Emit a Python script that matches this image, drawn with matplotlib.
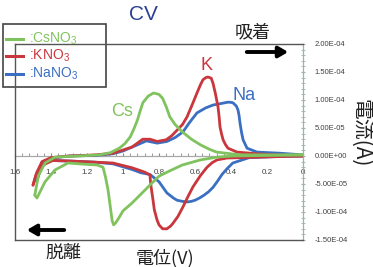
import matplotlib
matplotlib.use("Agg")
import matplotlib.pyplot as plt
from matplotlib.patches import Rectangle
from matplotlib.lines import Line2D
from matplotlib.ticker import MultipleLocator, FixedLocator, FixedFormatter

# ---------------- data (potential V, current in 1e-5 A) ----------------
cs_up_x = [0.0, 0.2, 0.35, 0.48, 0.52, 0.57, 0.62, 0.67, 0.71, 0.74, 0.76, 0.78, 0.80, 0.83,
           0.86, 0.89, 0.905, 0.92, 0.94, 0.96, 0.99, 1.02, 1.07, 1.13, 1.25, 1.378, 1.433,
           1.47, 1.49]
cs_up_y = [0.2, 0.2, 0.2, 0.7, 1.2, 2.0, 3.0, 4.3, 5.6, 7.0, 8.8, 10.3, 11.0, 11.25,
           10.7, 9.5, 8.0, 6.4, 4.8, 3.4, 2.2, 1.4, 0.6, 0.2, 0.0, -0.2, -1.25,
           -3.5, -7.0]
cs_dn_x = [1.49, 1.478, 1.433, 1.378, 1.306, 1.2, 1.144, 1.111, 1.097, 1.083, 1.07, 1.06,
           1.052, 1.04, 1.02, 1.0, 0.95, 0.9, 0.86, 0.8, 0.75, 0.67, 0.57, 0.478, 0.39,
           0.2, 0.0]
cs_dn_y = [-7.0, -7.5, -4.6, -2.5, -1.25, -1.5, -1.6, -2.0, -3.8, -6.1, -9.2, -11.6,
           -12.3, -11.9, -10.9, -9.8, -8.4, -6.8, -5.5, -3.6, -2.8, -1.6, -0.7, -0.2, 0.0,
           0.1, 0.2]

k_up_x = [0.0, 0.24, 0.367, 0.417, 0.43, 0.444, 0.453, 0.461, 0.466, 0.472, 0.487, 0.5,
          0.51, 0.528, 0.54, 0.556, 0.57, 0.589, 0.615, 0.644, 0.67, 0.7, 0.73, 0.76, 0.81,
          0.85, 0.89, 0.95, 1.0, 1.056, 1.15, 1.3, 1.4, 1.45, 1.48, 1.5]
k_up_y = [0.0, 0.35, 0.7, 1.4, 2.0, 2.9, 4.0, 5.2, 7.0, 8.75, 11.2, 13.0,
          13.9, 14.1, 14.0, 13.6, 12.7, 11.25, 9.2, 7.0, 5.6, 4.6, 3.6, 2.9, 2.6,
          3.0, 3.0, 1.6, 1.07, 0.5, 0.2, 0.0, -0.3, -1.0, -3.0, -5.2]
k_dn_x = [1.5, 1.483, 1.444, 1.39, 1.29, 1.156, 1.056, 0.95, 0.878, 0.85, 0.848, 0.844,
          0.833, 0.826, 0.811, 0.8, 0.78, 0.756, 0.735, 0.722, 0.695, 0.667, 0.64, 0.611,
          0.57, 0.533, 0.505, 0.478, 0.422, 0.24, 0.0]
k_dn_y = [-5.2, -3.4, -1.6, -0.8, -0.9, -1.1, -1.25, -2.1, -2.9, -3.4, -4.3, -5.5,
          -7.9, -9.6, -11.4, -12.3, -13.0, -13.0, -12.5, -12.0, -10.8, -9.1, -7.3, -5.5,
          -3.5, -2.0, -1.2, -0.7, -0.36, -0.2, 0.0]

na_up_x = [0.0, 0.13, 0.256, 0.311, 0.333, 0.342, 0.35, 0.355, 0.361, 0.37, 0.389, 0.405,
           0.42, 0.45, 0.5, 0.54, 0.589, 0.63, 0.667, 0.71, 0.756, 0.81, 0.87, 0.92, 1.0,
           1.056, 1.15, 1.3, 1.4, 1.45, 1.48]
na_up_y = [0.2, 0.5, 0.7, 1.4, 2.9, 4.3, 5.9, 7.2, 8.2, 8.9, 9.5, 9.6,
           9.6, 9.4, 9.1, 8.6, 7.7, 6.0, 4.3, 3.3, 2.6, 2.3, 2.7, 2.0, 0.9,
           0.4, 0.1, 0.0, -0.4, -1.2, -4.5]
na_dn_x = [1.48, 1.45, 1.40, 1.3, 1.156, 1.056, 0.95, 0.90, 0.85, 0.8, 0.756, 0.72, 0.70,
           0.67, 0.644, 0.62, 0.60, 0.575, 0.55, 0.525, 0.5, 0.475, 0.45, 0.42, 0.39, 0.3,
           0.15, 0.0]
na_dn_y = [-4.5, -1.6, -0.8, -0.9, -1.1, -1.4, -2.4, -3.0, -3.3, -4.6, -6.6, -7.5, -7.9,
           -8.1, -8.2, -8.1, -7.9, -7.5, -7.0, -6.4, -5.6, -4.5, -3.3, -2.2, -1.25, -0.3,
           -0.1, 0.0]

x_ticks = [1.6, 1.4, 1.2, 1.0, 0.8, 0.6, 0.4, 0.2, 0.0]
x_tick_labels = ["1.6", "1.4", "1.2", "1", "0.8", "0.6", "0.4", "0.2", "0"]
y_ticks = [2.0e-4, 1.5e-4, 1.0e-4, 0.5e-4, 0.0, -0.5e-4, -1.0e-4, -1.5e-4]
y_tick_labels = ["2.00E-04", "1.50E-04", "1.00E-04", "5.00E-05", "0.00E+00",
                 "-5.00E-05", "-1.00E-04", "-1.50E-04"]

series_names = [":CsNO", ":KNO", ":NaNO"]
scale = 1e-5

GREEN = "#80c35e"
RED = "#c9373c"
BLUE = "#3a6fc2"
CJK = ["Noto Sans CJK JP", "DejaVu Sans"]

W, H = 373, 267
fig = plt.figure(figsize=(W / 100, H / 100), dpi=100)
L, R, T, B = 15, 303, 44, 240
ax = fig.add_axes([L / W, 1 - B / H, (R - L) / W, (B - T) / H])

def sc(v):
    return [a * scale for a in v]

lw = 2.0
for xs, ys in [(na_up_x, na_up_y), (na_dn_x, na_dn_y)]:
    ax.plot(xs, sc(ys), color=BLUE, lw=lw, solid_capstyle="round",
            solid_joinstyle="round", zorder=3)
for xs, ys in [(k_up_x, k_up_y), (k_dn_x, k_dn_y)]:
    ax.plot(xs, sc(ys), color=RED, lw=lw, solid_capstyle="round",
            solid_joinstyle="round", zorder=4)
for xs, ys in [(cs_up_x, cs_up_y), (cs_dn_x, cs_dn_y)]:
    ax.plot(xs, sc(ys), color=GREEN, lw=lw, solid_capstyle="round",
            solid_joinstyle="round", zorder=5)

ax.set_xlim(1.6, 0.0)
ax.set_ylim(-1.5e-4, 2.0e-4)

# axes styling
ax.spines["left"].set_visible(False)
ax.spines["top"].set_visible(False)
ax.spines["bottom"].set_position(("data", 0))
ax.spines["bottom"].set_color("#a8a8a8")
ax.spines["bottom"].set_linewidth(0.9)
ax.spines["right"].set_color("#9fb0b0")
ax.spines["right"].set_linewidth(0.9)

ax.xaxis.set_major_locator(FixedLocator(x_ticks))
ax.xaxis.set_major_formatter(FixedFormatter(x_tick_labels))
ax.xaxis.set_minor_locator(MultipleLocator(0.04))
ax.tick_params(axis="x", which="both", direction="in", length=2, color="#888888",
               labelsize=5.8, labelcolor="#404040", pad=9)

ax.yaxis.tick_right()
ax.yaxis.set_major_locator(FixedLocator(y_ticks))
ax.yaxis.set_major_formatter(FixedFormatter(y_tick_labels))
ax.yaxis.set_minor_locator(MultipleLocator(1e-5))
ax.tick_params(axis="y", which="both", direction="inout", length=2.5, color="#9fb0b0",
               labelsize=5.5, labelcolor="#404040", pad=7)
for lab in ax.get_xticklabels() + ax.get_yticklabels():
    lab.set_fontfamily("Liberation Sans")

# overlay in pixel coords
ov = fig.add_axes([0, 0, 1, 1], zorder=10)
ov.set_xlim(0, W)
ov.set_ylim(H, 0)
ov.axis("off")
ov.patch.set_alpha(0)

frame_c = "#555555"
ov.add_line(Line2D([L, R], [T, T], color=frame_c, lw=1.0))
ov.add_line(Line2D([L, R], [B, B], color=frame_c, lw=1.0))
ov.add_line(Line2D([L, L], [T, B], color=frame_c, lw=1.0))

# legend box
ov.add_patch(Rectangle((3, 24), 103, 63, facecolor="white", edgecolor="#444444", lw=1.2))
leg_cols = [GREEN, RED, BLUE]
leg_y = [39, 56, 74]
for name, c, yy in zip(series_names, leg_cols, leg_y):
    ov.add_line(Line2D([6, 23], [yy, yy], color=c, lw=2.2))
    ov.text(29, yy, name + r"$_\mathregular{3}$", color=c, fontsize=10,
            family="Liberation Sans", va="center", ha="left")

# title and annotations
ov.text(143, 15, "CV", color="#2b3f95", fontsize=15, family="Liberation Sans",
        ha="center", va="center")
ov.text(253, 32, "吸着", fontsize=13, family=CJK, ha="center", va="center", color="#222222")
ov.text(63, 253, "脱離", fontsize=13, family=CJK, ha="center", va="center", color="#222222")
ov.text(165, 258, "電位(V)", fontsize=13, family=CJK, ha="center", va="center", color="#222222")
ov.text(361, 133, "電流(A)", fontsize=15, family=CJK, ha="center", va="center",
        rotation=270, color="#222222")
ov.annotate("", xy=(291, 52), xytext=(244, 52),
            arrowprops=dict(arrowstyle="-|>,head_length=0.55,head_width=0.32", color="black", lw=2.8))
ov.annotate("", xy=(24, 230), xytext=(67, 230),
            arrowprops=dict(arrowstyle="-|>,head_length=0.55,head_width=0.32", color="black", lw=2.8))

ov.text(122, 112, "Cs", color=GREEN, fontsize=13, family="Liberation Sans", ha="center", va="center")
ov.text(207, 66, "K", color=RED, fontsize=13, family="Liberation Sans", ha="center", va="center")
ov.text(244, 96, "Na", color=BLUE, fontsize=13, family="Liberation Sans", ha="center", va="center")

fig.savefig("out.png", dpi=100)
